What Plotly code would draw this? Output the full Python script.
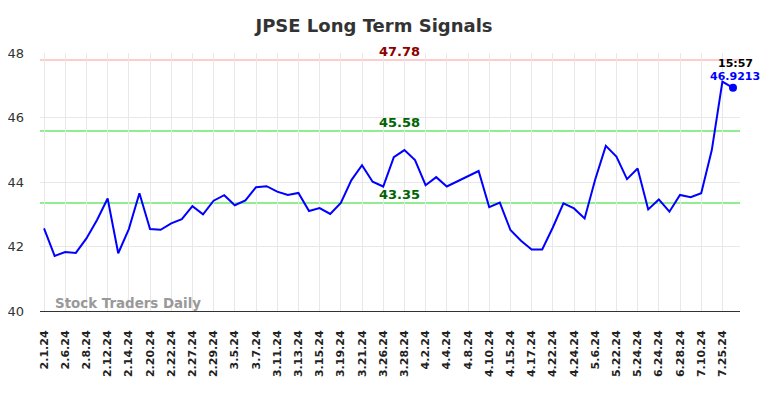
import plotly.graph_objects as go

dates = ["2.1.24","2.5.24","2.6.24","2.7.24","2.8.24","2.9.24","2.12.24","2.13.24","2.14.24","2.16.24",
         "2.20.24","2.21.24","2.22.24","2.26.24","2.27.24","2.28.24","2.29.24","3.4.24","3.5.24","3.6.24",
         "3.7.24","3.8.24","3.11.24","3.12.24","3.13.24","3.14.24","3.15.24","3.18.24","3.19.24","3.20.24",
         "3.21.24","3.25.24","3.26.24","3.27.24","3.28.24","4.1.24","4.2.24","4.3.24","4.4.24","4.5.24",
         "4.8.24","4.9.24","4.10.24","4.12.24","4.15.24","4.16.24","4.17.24","4.19.24","4.22.24","4.23.24",
         "4.24.24","4.29.24","5.6.24","5.15.24","5.22.24","5.23.24","5.24.24","6.14.24","6.24.24","6.26.24",
         "6.28.24","7.5.24","7.10.24","7.19.24","7.25.24","7.26.24"]
prices = [42.56,41.71,41.83,41.80,42.25,42.82,43.49,41.79,42.54,43.65,
          42.54,42.52,42.72,42.85,43.25,43.00,43.42,43.59,43.28,43.43,
          43.84,43.87,43.70,43.60,43.66,43.10,43.19,43.01,43.35,44.06,
          44.52,44.01,43.86,44.77,44.99,44.68,43.90,44.15,43.86,44.02,
          44.19,44.34,43.22,43.36,42.51,42.18,41.91,41.91,42.59,43.34,
          43.18,42.87,44.08,45.12,44.79,44.09,44.42,43.15,43.46,43.08,
          43.60,43.53,43.65,44.99,47.11,46.9213]
tick_labels = dates[0:65:2]

resistance = 47.78
mid_level = 45.58
support = 43.35
last_time = "15:57"

fig = go.Figure()
fig.add_trace(go.Scatter(x=dates, y=prices, mode="lines",
                         line=dict(color="#0000ff", width=2), hoverinfo="skip"))
fig.add_trace(go.Scatter(x=[dates[-1]], y=[prices[-1]], mode="markers",
                         marker=dict(color="#0000ff", size=8), hoverinfo="skip"))

for lvl, col in [(resistance, "#ffcccc"), (mid_level, "#90ee90"), (support, "#90ee90")]:
    fig.add_hline(y=lvl, line=dict(color=col, width=2), layer="below")

mid_cat = dates[34]
fig.add_annotation(x=mid_cat, y=resistance, text="<b>%.2f</b>" % resistance, showarrow=False,
                   xshift=-5, yshift=-1, yanchor="bottom", font=dict(color="#8b0000", size=13))
fig.add_annotation(x=mid_cat, y=mid_level, text="<b>%.2f</b>" % mid_level, showarrow=False,
                   xshift=-5, yshift=-1, yanchor="bottom", font=dict(color="#006400", size=13))
fig.add_annotation(x=mid_cat, y=support, text="<b>%.2f</b>" % support, showarrow=False,
                   xshift=-5, yshift=-1, yanchor="bottom", font=dict(color="#006400", size=13))
fig.add_annotation(x=dates[-1], y=prices[-1], text="<b>%s</b>" % last_time, showarrow=False,
                   xshift=2, yshift=24, font=dict(color="#000000", size=11))
fig.add_annotation(x=dates[-1], y=prices[-1], text="<b>%s</b>" % prices[-1], showarrow=False,
                   xshift=2, yshift=11, font=dict(color="#0000ff", size=11))
fig.add_annotation(xref="paper", yref="paper", x=0.018, y=-0.006, xanchor="left", yanchor="bottom",
                   text="<b>Stock Traders Daily</b>", showarrow=False,
                   font=dict(color="#999999", size=13.4))

fig.update_layout(
    width=776, height=390,
    margin=dict(l=32, r=44, t=45, b=87, autoexpand=False),
    paper_bgcolor="white", plot_bgcolor="white",
    showlegend=False,
    font=dict(family="DejaVu Sans", color="#333333"),
    title=dict(text="<b>JPSE Long Term Signals</b>", x=366/776, xanchor="center",
               y=1 - 18/390, yanchor="middle", font=dict(size=18, color="#333333")),
)
fig.update_xaxes(type="category", tickmode="array", tickvals=tick_labels,
                 ticktext=["<b>%s</b>" % t for t in tick_labels],
                 range=[-0.38, 65.66], tickangle=-90, showgrid=True, gridcolor="#e8e8e8",
                 showline=True, linecolor="#333333", linewidth=1, zeroline=False, automargin=False,
                 tickfont=dict(size=11, color="#222222", family="DejaVu Sans"),
                 ticklabelstandoff=14)
fig.update_yaxes(range=[40, 48], tickvals=[40, 42, 44, 46, 48], showgrid=True, gridcolor="#e8e8e8",
                 zeroline=False, showline=False, automargin=False,
                 tickfont=dict(size=13, color="#333333"),
                 ticklabelstandoff=15)

fig.write_html("out.html")
